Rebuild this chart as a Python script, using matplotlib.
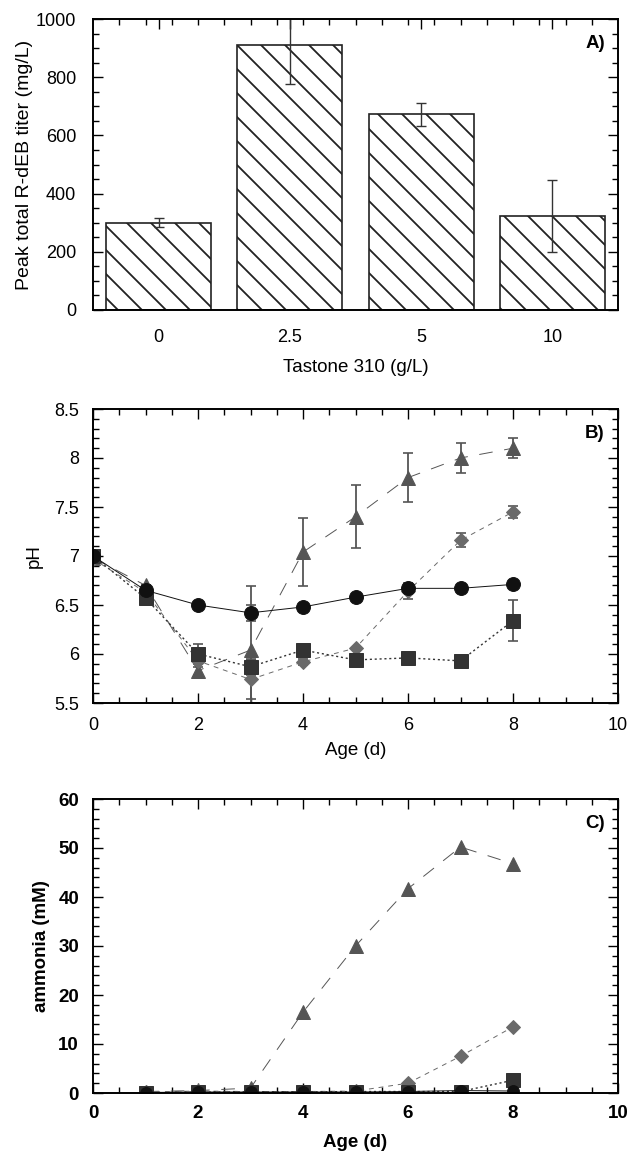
import numpy as np
import matplotlib
matplotlib.use('Agg')
import matplotlib.pyplot as plt
from matplotlib.ticker import MultipleLocator, FixedLocator

matplotlib.rcParams['font.family'] = ['Liberation Sans', 'DejaVu Sans']

# drawn at 72 dpi so the hatch comes out as wide as in the original;
# K turns the sizes below (tuned for 100 dpi) into points at this dpi
DPI = 72
K = 100 / DPI
matplotlib.rcParams['hatch.linewidth'] = 1.3 * K

# Panel A: peak titer vs Tastone 310
tastone = ['0', '2.5', '5', '10']
titer = [300, 912, 672, 323]
titer_err = [15, 135, 40, 125]

# Panel B: pH vs age
age_b = [0, 1, 2, 3, 4, 5, 6, 7, 8]
ph_circle = [7.0, 6.65, 6.5, 6.42, 6.48, 6.58, 6.67, 6.67, 6.71]
ph_circle_err = [0, 0, 0, 0.08, 0, 0, 0, 0, 0]
ph_square = [7.0, 6.57, 6.0, 5.87, 6.04, 5.94, 5.96, 5.93, 6.34]
ph_square_err = [0, 0.07, 0.1, 0.08, 0, 0, 0, 0, 0.21]
ph_diamond = [6.97, 6.63, 5.93, 5.74, 5.92, 6.06, 6.64, 7.16, 7.45]
ph_diamond_err = [0, 0, 0, 0.2, 0.03, 0, 0.08, 0.07, 0.06]
ph_triangle = [6.98, 6.7, 5.83, 6.04, 7.04, 7.4, 7.8, 8.0, 8.1]
ph_triangle_err = [0, 0, 0.04, 0.65, 0.35, 0.32, 0.25, 0.15, 0.1]

# Panel C: ammonia vs age
age_c = [1, 2, 3, 4, 5, 6, 7, 8]
nh3_circle = [0.1, 0.2, 0.2, 0.2, 0.2, 0.3, 0.5, 0.4]
nh3_square = [0.0, 0.2, 0.2, 0.2, 0.3, 0.3, 0.3, 2.6]
nh3_diamond = [0.2, 0.4, 0.3, 0.3, 0.4, 2.0, 7.5, 13.5]
nh3_triangle = [0.3, 0.5, 1.0, 16.5, 30.0, 41.7, 50.2, 46.8]

W, H = 632, 1156


def box(left, top, right, bottom):
    return [left / W, 1 - bottom / H, (right - left) / W, (bottom - top) / H]


def style_axes(ax):
    ax.tick_params(which='both', direction='in', top=True, right=True, width=1 * K)
    ax.tick_params(which='major', length=7 * K)
    ax.tick_params(which='minor', length=4 * K)
    for s in ax.spines.values():
        s.set_linewidth(1.4 * K)


def panel_label(ax, text):
    ax.text(0.975, 0.915, text, transform=ax.transAxes, ha='right', va='center',
            fontsize=13.5 * K, fontweight='bold')


fig = plt.figure(figsize=(W / DPI, H / DPI), dpi=DPI)

# ---------- A ----------
ax = fig.add_axes(box(93, 19, 618, 310))
x = np.arange(len(tastone))
ax.bar(x, titer, width=0.8, color='white', edgecolor='#222222', hatch='\\', linewidth=1.2 * K)
ax.errorbar(x, titer, yerr=titer_err, fmt='none', ecolor='#333333', elinewidth=1 * K,
            capsize=3.5 * K, capthick=1 * K)
ax.set_xlim(-0.5, 3.5)
ax.set_ylim(0, 1000)
ax.set_xticks(x)
ax.set_xticklabels(tastone)
ax.yaxis.set_major_locator(MultipleLocator(200))
ax.yaxis.set_minor_locator(MultipleLocator(50))
ax.xaxis.set_minor_locator(FixedLocator(np.arange(-0.3, 3.5, 0.2)))
style_axes(ax)
ax.tick_params(axis='x', which='both', bottom=False, pad=14 * K)
ax.tick_params(labelsize=13 * K)
ax.tick_params(axis='y', pad=12 * K)
ax.set_xlabel('Tastone 310 (g/L)', fontsize=13.5 * K, labelpad=9 * K)
ax.set_ylabel('Peak total R-dEB titer (mg/L)', fontsize=14 * K, labelpad=2 * K)
panel_label(ax, 'A)')

# ---------- B ----------
ax = fig.add_axes(box(93, 409, 618, 703))
kw = dict(capsize=3.5 * K, capthick=1.2 * K, ecolor='#555555', elinewidth=1.3 * K)
ax.errorbar(age_b, ph_triangle, yerr=ph_triangle_err, marker='^', ms=10 * K, color='#555555',
            lw=0.7 * K, dashes=(14, 12), **kw)
ax.errorbar(age_b, ph_diamond, yerr=ph_diamond_err, marker='D', ms=7 * K, color='#6a6a6a',
            lw=0.7 * K, dashes=(5, 5), **kw)
ax.errorbar(age_b, ph_square, yerr=ph_square_err, marker='s', ms=10 * K, color='#333333',
            lw=1.0 * K, dashes=(1.5, 2), **kw)
ax.errorbar(age_b, ph_circle, yerr=ph_circle_err, marker='o', ms=10 * K, color='#111111',
            lw=0.7 * K, **kw)
ax.set_xlim(0, 10)
ax.set_ylim(5.5, 8.5)
ax.set_xticks([0, 2, 4, 6, 8, 10])
ax.xaxis.set_minor_locator(FixedLocator(np.arange(0, 10.01, 0.5)))
ax.set_yticks([5.5, 6, 6.5, 7, 7.5, 8, 8.5])
ax.set_yticklabels(['5.5', '6', '6.5', '7', '7.5', '8', '8.5'])
ax.yaxis.set_minor_locator(MultipleLocator(0.1))
style_axes(ax)
ax.tick_params(labelsize=13 * K)
ax.tick_params(axis='x', pad=10 * K)
ax.tick_params(axis='y', pad=10 * K)
ax.set_xlabel('Age (d)', fontsize=13.5 * K, labelpad=6 * K)
ax.set_ylabel('pH', fontsize=13.5 * K, labelpad=8 * K)
panel_label(ax, 'B)')

# ---------- C ----------
ax = fig.add_axes(box(93, 799, 618, 1093))
ax.plot(age_c, nh3_triangle, marker='^', ms=10 * K, color='#555555', lw=0.7 * K, dashes=(14, 12))
ax.plot(age_c, nh3_diamond, marker='D', ms=7 * K, color='#6a6a6a', lw=0.7 * K, dashes=(5, 5))
ax.plot(age_c, nh3_square, marker='s', ms=10 * K, color='#333333', lw=1.0 * K, dashes=(1.5, 2))
ax.plot(age_c, nh3_circle, marker='o', ms=8.5 * K, color='#111111', lw=0.7 * K)
ax.set_xlim(0, 10)
ax.set_ylim(0, 60)
ax.set_xticks([0, 2, 4, 6, 8, 10])
ax.xaxis.set_minor_locator(FixedLocator(np.arange(0, 10.01, 0.5)))
ax.yaxis.set_major_locator(MultipleLocator(10))
ax.yaxis.set_minor_locator(MultipleLocator(2))
style_axes(ax)
ax.tick_params(labelsize=13.5 * K)
ax.tick_params(axis='x', pad=9 * K)
ax.tick_params(axis='y', pad=10 * K)
for lab in ax.get_xticklabels() + ax.get_yticklabels():
    lab.set_fontweight('bold')
ax.set_xlabel('Age (d)', fontsize=13.5 * K, fontweight='bold', labelpad=8 * K)
ax.set_ylabel('ammonia (mM)', fontsize=13.5 * K, fontweight='bold', labelpad=6 * K)
panel_label(ax, 'C)')

fig.savefig('out.png', dpi=DPI)
plt.close(fig)
